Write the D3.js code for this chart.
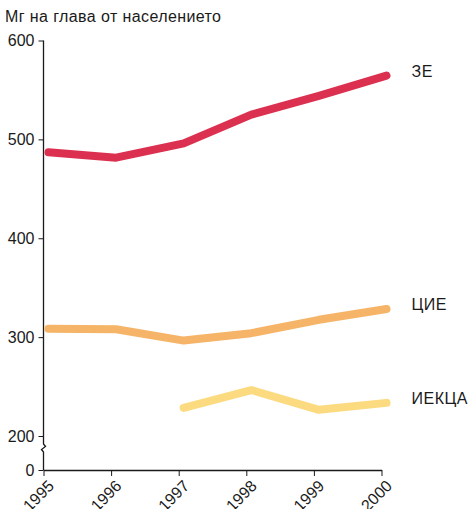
<!DOCTYPE html>
<html>
<head>
<meta charset="utf-8">
<script src="https://cdn.jsdelivr.net/npm/d3@7"></script>
<style>
  body { margin: 0; background: #fff; }
  text { font-family: "Liberation Sans", Arial, sans-serif; fill: #1a1a1a; }
</style>
</head>
<body>
<script>
'use strict';

// data
const years = [1995, 1996, 1997, 1998, 1999, 2000];
const seriesNames = ["ЗЕ", "ЦИЕ", "ИЕКЦА"];
const ze    = [487, 481.5, 496, 525, 544, 564.5];
const cie   = [308.5, 308, 296.5, 304, 317.5, 328.5];
const ieca  = [null, null, 228.5, 246.5, 226.5, 233.5];
const yTicks = [0, 200, 300, 400, 500, 600];
const title = "Мг на глава от населението";
const colors = ["#dc3050", "#f5b467", "#fbda80"];

let width = 469,
    height = 509,
    svg = d3.select("body").append("svg")
            .attr("width", width)
            .attr("height", height);

// broken axis: 0..200 squeezed, 200..600 linear
let x = d3.scaleLinear().domain([1995, 2000]).range([43.5, 381.5]),
    y = d3.scaleLinear().domain([0, 200, 600]).range([470, 436, 40.5]);

svg.append("text")
    .attr("x", 5)
    .attr("y", 22)
    .style("font-size", "16px")
    .style("letter-spacing", "0.4px")
    .text(title);

// y axis
let yAxis = svg.append("g")
    .attr("transform", "translate(43.5,0)")
    .call(d3.axisLeft(y).tickValues(yTicks).tickSize(5).tickPadding(4).tickFormat(d3.format("d")));
yAxis.select(".domain").remove();
yAxis.selectAll("text").style("font-size", "16px").attr("fill", "#1a1a1a");
yAxis.selectAll("line").attr("stroke", "#1a1a1a");

let by = 448;
svg.append("path")
    .attr("d", `M43.5,${y(600)}V${by - 4}L45.5,${by - 1.5}L41.5,${by + 1.5}L43.5,${by + 4}V${y(0)}`)
    .attr("fill", "none")
    .attr("stroke", "#1a1a1a")
    .attr("stroke-width", 1.3);

// x axis
let xAxis = svg.append("g")
    .attr("transform", `translate(0,${y(0)})`)
    .call(d3.axisBottom(x).tickValues(years).tickSize(6).tickSizeOuter(0).tickFormat(d3.format("d")));
xAxis.select(".domain").attr("stroke", "#1a1a1a").attr("stroke-width", 1.3);
xAxis.selectAll("line").attr("stroke", "#1a1a1a");
xAxis.selectAll("text")
    .style("font-size", "16px")
    .attr("fill", "#1a1a1a")
    .attr("text-anchor", "end")
    .attr("x", 0)
    .attr("y", 0)
    .attr("dy", null)
    .attr("transform", "translate(11,17) rotate(-45)");

// lines
let line = d3.line()
    .defined(d => d != null)
    .x((d, i) => x(years[i]))
    .y(d => y(d));

let lines = svg.append("g").attr("transform", "translate(5,0)");
[ze, cie, ieca].forEach((s, k) => {
  lines.append("path")
      .attr("d", line(s))
      .attr("fill", "none")
      .attr("stroke", colors[k])
      .attr("stroke-width", 8)
      .attr("stroke-linecap", "round")
      .attr("stroke-linejoin", "round");

  svg.append("text")
      .attr("x", x(2000) + 30)
      .attr("y", y(s[s.length - 1]) - 3)
      .attr("dominant-baseline", "middle")
      .style("font-size", "16px")
      .style("letter-spacing", "0.5px")
      .text(seriesNames[k]);
});
</script>
</body>
</html>
